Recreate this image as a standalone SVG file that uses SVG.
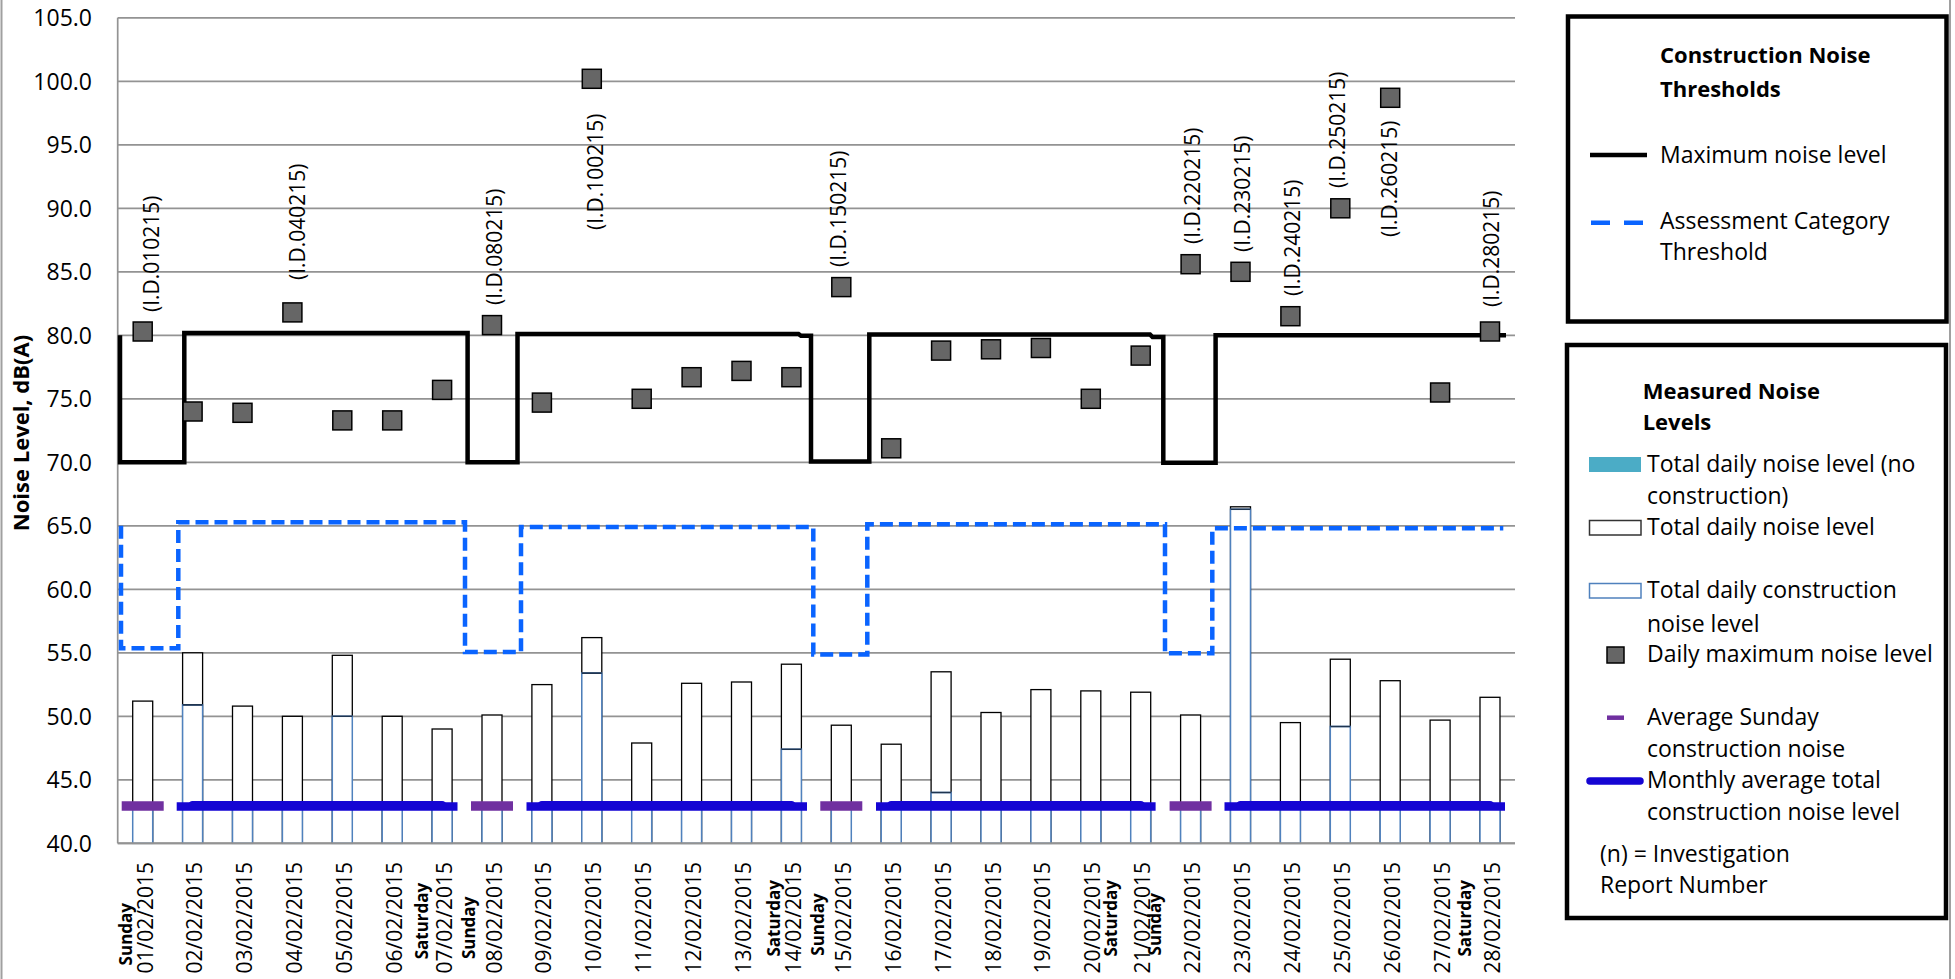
<svg xmlns="http://www.w3.org/2000/svg" width="1955" height="979" viewBox="0 0 1955 979">
<style>
text{font-family:"Open Sans","Noto Sans","Liberation Sans",sans-serif;fill:#000}
.yl{font-size:23px;text-anchor:end}
.xl{font-size:21px;text-anchor:end}
.xd{font-size:17px;font-weight:bold;text-anchor:end}
.id{font-size:21px}
.lg{font-size:23px}
.lt{font-size:22px;font-weight:bold}
.grid{stroke:#939393;stroke-width:1.7;fill:none}
.tot{fill:#fff;stroke:#000;stroke-width:1.3}
.con{fill:#fff;stroke:#4f81bd;stroke-width:1.5}
.ctop{stroke:#1f3550;stroke-width:1.6}
.mx{fill:#666;stroke:#000;stroke-width:1.5}
.sun{stroke:#7030a0;stroke-width:9.5}
.mon{stroke:#1505d3;stroke-width:8.5}
.mon2{stroke:#1505d3;stroke-width:9;stroke-linecap:round}
.maxl{fill:none;stroke:#000;stroke-width:4.5}
.acl{fill:none;stroke:#0a64ff;stroke-width:4.5;stroke-dasharray:13 6}
.box{fill:#fff;stroke:#000;stroke-width:4.5}
</style>
<rect width="1955" height="979" fill="#fff"/>
<line x1="1.5" y1="0" x2="1.5" y2="979" stroke="#a0a0a0" stroke-width="2"/>
<line x1="1950" y1="0" x2="1950" y2="979" stroke="#a0a0a0" stroke-width="2"/>

<g id="grid">
<path class="grid" d="M117.7,17.8H1515M117.7,81.3H1515M117.7,144.8H1515M117.7,208.3H1515M117.7,271.8H1515M117.7,335.3H1515M117.7,398.8H1515M117.7,462.3H1515M117.7,525.8H1515M117.7,589.3H1515M117.7,652.8H1515M117.7,716.3H1515M117.7,779.8H1515M117.7,843.3H1515M117.7,17.8V843.3"/>
</g>
<g id="y-axis">
<text class="yl" x="92" y="26">105.0</text>
<text class="yl" x="92" y="89.5">100.0</text>
<text class="yl" x="92" y="153">95.0</text>
<text class="yl" x="92" y="216.5">90.0</text>
<text class="yl" x="92" y="280">85.0</text>
<text class="yl" x="92" y="343.5">80.0</text>
<text class="yl" x="92" y="407">75.0</text>
<text class="yl" x="92" y="470.5">70.0</text>
<text class="yl" x="92" y="534">65.0</text>
<text class="yl" x="92" y="597.5">60.0</text>
<text class="yl" x="92" y="661">55.0</text>
<text class="yl" x="92" y="724.5">50.0</text>
<text class="yl" x="92" y="788">45.0</text>
<text class="yl" x="92" y="851.5">40.0</text>
<text transform="translate(28.5,433) rotate(-90)" style="font-size:22px;font-weight:bold;text-anchor:middle">Noise Level, dB(A)</text>
</g>

<g id="bars-total">
<rect class="tot" x="132.7" y="701.1" width="20" height="142.2"/>
<rect class="tot" x="182.6" y="652.8" width="20" height="190.5"/>
<rect class="tot" x="232.5" y="706.1" width="20" height="137.2"/>
<rect class="tot" x="282.4" y="716.3" width="20" height="127"/>
<rect class="tot" x="332.3" y="655.3" width="20" height="188"/>
<rect class="tot" x="382.2" y="716.3" width="20" height="127"/>
<rect class="tot" x="432.1" y="729" width="20" height="114.3"/>
<rect class="tot" x="482" y="715" width="20" height="128.3"/>
<rect class="tot" x="531.9" y="684.6" width="20" height="158.7"/>
<rect class="tot" x="581.8" y="637.6" width="20" height="205.7"/>
<rect class="tot" x="631.7" y="743" width="20" height="100.3"/>
<rect class="tot" x="681.6" y="683.3" width="20" height="160"/>
<rect class="tot" x="731.5" y="682" width="20" height="161.3"/>
<rect class="tot" x="781.4" y="664.2" width="20" height="179.1"/>
<rect class="tot" x="831.3" y="725.2" width="20" height="118.1"/>
<rect class="tot" x="881.2" y="744.2" width="20" height="99.1"/>
<rect class="tot" x="931.1" y="671.8" width="20" height="171.5"/>
<rect class="tot" x="981" y="712.5" width="20" height="130.8"/>
<rect class="tot" x="1030.9" y="689.6" width="20" height="153.7"/>
<rect class="tot" x="1080.8" y="690.9" width="20" height="152.4"/>
<rect class="tot" x="1130.7" y="692.2" width="20" height="151.1"/>
<rect class="tot" x="1180.6" y="715" width="20" height="128.3"/>
<rect class="tot" x="1230.5" y="506.8" width="20" height="336.5"/>
<rect class="tot" x="1280.4" y="722.6" width="20" height="120.7"/>
<rect class="tot" x="1330.3" y="659.2" width="20" height="184.1"/>
<rect class="tot" x="1380.2" y="680.7" width="20" height="162.6"/>
<rect class="tot" x="1430.1" y="720.1" width="20" height="123.2"/>
<rect class="tot" x="1480" y="697.3" width="20" height="146"/>
</g>
<g id="bars-construction">
<rect class="con" x="132.7" y="805.2" width="20" height="38.1"/>
<rect class="con" x="182.6" y="704.9" width="20" height="138.4"/>
<rect class="con" x="232.5" y="805.2" width="20" height="38.1"/>
<rect class="con" x="282.4" y="805.2" width="20" height="38.1"/>
<rect class="con" x="332.3" y="716.3" width="20" height="127"/>
<rect class="con" x="382.2" y="805.2" width="20" height="38.1"/>
<rect class="con" x="432.1" y="805.2" width="20" height="38.1"/>
<rect class="con" x="482" y="805.2" width="20" height="38.1"/>
<rect class="con" x="531.9" y="805.2" width="20" height="38.1"/>
<rect class="con" x="581.8" y="673.1" width="20" height="170.2"/>
<rect class="con" x="631.7" y="805.2" width="20" height="38.1"/>
<rect class="con" x="681.6" y="805.2" width="20" height="38.1"/>
<rect class="con" x="731.5" y="805.2" width="20" height="38.1"/>
<rect class="con" x="781.4" y="749.3" width="20" height="94"/>
<rect class="con" x="831.3" y="805.2" width="20" height="38.1"/>
<rect class="con" x="881.2" y="805.2" width="20" height="38.1"/>
<rect class="con" x="931.1" y="792.5" width="20" height="50.8"/>
<rect class="con" x="981" y="805.2" width="20" height="38.1"/>
<rect class="con" x="1030.9" y="805.2" width="20" height="38.1"/>
<rect class="con" x="1080.8" y="805.2" width="20" height="38.1"/>
<rect class="con" x="1130.7" y="805.2" width="20" height="38.1"/>
<rect class="con" x="1180.6" y="805.2" width="20" height="38.1"/>
<rect class="con" x="1230.5" y="509.3" width="20" height="334"/>
<rect class="con" x="1280.4" y="805.2" width="20" height="38.1"/>
<rect class="con" x="1330.3" y="726.5" width="20" height="116.8"/>
<rect class="con" x="1380.2" y="805.2" width="20" height="38.1"/>
<rect class="con" x="1430.1" y="805.2" width="20" height="38.1"/>
<rect class="con" x="1480" y="805.2" width="20" height="38.1"/>
<path class="ctop" d="M182.6,704.9h20M332.3,716.3h20M581.8,673.1h20M781.4,749.3h20M931.1,792.5h20M1230.5,509.3h20M1330.3,726.5h20"/>
<line x1="117.7" y1="843.3" x2="1515" y2="843.3" stroke="#939393" stroke-width="2"/>
</g>

<g id="averages">
<path class="sun" d="M121.7,806H163.7M471,806H513M820.3,806H862.3M1169.6,806H1211.6"/>
<path class="mon" d="M176.7,806.5H457.5M526.5,806.5H807M876,806.5H1155.6M1224.5,806.5H1505"/>
<path class="mon2" d="M192.6,805.5H442.1M541.9,805.5H791.4M891.2,805.5H1140.7M1240.5,805.5H1490"/>
</g>

<g id="thresholds">
<path class="acl" d="M121,525.8V648.3H178.3V522.3H465V652H521V527H813.3V654.6H867.3V524.3H1165V653.3H1212.3V528.3H1503.3"/>
<path class="maxl" d="M120,335.3V462.3H184.3V333H467.6V462.3H517.5V334H798.5L801,335.8H811V461.5H869.3V334.5H1150L1152.5,337H1163.3V462.8H1215.6V335.3H1506"/>
</g>

<g id="daily-max">
<rect class="mx" x="133.2" y="322" width="19" height="19"/>
<rect class="mx" x="183.1" y="402" width="19" height="19"/>
<rect class="mx" x="233" y="403.3" width="19" height="19"/>
<rect class="mx" x="282.9" y="302.9" width="19" height="19"/>
<rect class="mx" x="332.8" y="410.9" width="19" height="19"/>
<rect class="mx" x="382.7" y="410.9" width="19" height="19"/>
<rect class="mx" x="432.6" y="380.4" width="19" height="19"/>
<rect class="mx" x="482.5" y="315.6" width="19" height="19"/>
<rect class="mx" x="532.4" y="393.1" width="19" height="19"/>
<rect class="mx" x="582.3" y="69.3" width="19" height="19"/>
<rect class="mx" x="632.2" y="389.3" width="19" height="19"/>
<rect class="mx" x="682.1" y="367.7" width="19" height="19"/>
<rect class="mx" x="732" y="361.4" width="19" height="19"/>
<rect class="mx" x="781.9" y="367.7" width="19" height="19"/>
<rect class="mx" x="831.8" y="277.6" width="19" height="19"/>
<rect class="mx" x="881.7" y="438.8" width="19" height="19"/>
<rect class="mx" x="931.6" y="341.1" width="19" height="19"/>
<rect class="mx" x="981.5" y="339.8" width="19" height="19"/>
<rect class="mx" x="1031.4" y="338.5" width="19" height="19"/>
<rect class="mx" x="1081.3" y="389.3" width="19" height="19"/>
<rect class="mx" x="1131.2" y="346.1" width="19" height="19"/>
<rect class="mx" x="1181.1" y="254.7" width="19" height="19"/>
<rect class="mx" x="1231" y="262.3" width="19" height="19"/>
<rect class="mx" x="1280.9" y="306.7" width="19" height="19"/>
<rect class="mx" x="1330.8" y="198.8" width="19" height="19"/>
<rect class="mx" x="1380.7" y="88.3" width="19" height="19"/>
<rect class="mx" x="1430.6" y="383" width="19" height="19"/>
<rect class="mx" x="1480.5" y="322" width="19" height="19"/>
</g>

<g id="id-labels">
<text class="id" transform="translate(159,312) rotate(-90)">(I.D.010215)</text>
<text class="id" transform="translate(305,280) rotate(-90)">(I.D.040215)</text>
<text class="id" transform="translate(502,305) rotate(-90)">(I.D.080215)</text>
<text class="id" transform="translate(603,230) rotate(-90)">(I.D.100215)</text>
<text class="id" transform="translate(846,267) rotate(-90)">(I.D.150215)</text>
<text class="id" transform="translate(1200,244) rotate(-90)">(I.D.220215)</text>
<text class="id" transform="translate(1250,252) rotate(-90)">(I.D.230215)</text>
<text class="id" transform="translate(1300,296) rotate(-90)">(I.D.240215)</text>
<text class="id" transform="translate(1345,188) rotate(-90)">(I.D.250215)</text>
<text class="id" transform="translate(1397,237) rotate(-90)">(I.D.260215)</text>
<text class="id" transform="translate(1499,307) rotate(-90)">(I.D.280215)</text>
</g>

<g id="x-axis">
<text class="xd" transform="translate(131.5,903) rotate(-90)">Sunday</text>
<text class="xl" transform="translate(152.5,862) rotate(-90)">01/02/2015</text>
<text class="xl" transform="translate(202.1,862) rotate(-90)">02/02/2015</text>
<text class="xl" transform="translate(252,862) rotate(-90)">03/02/2015</text>
<text class="xl" transform="translate(301.9,862) rotate(-90)">04/02/2015</text>
<text class="xl" transform="translate(351.8,862) rotate(-90)">05/02/2015</text>
<text class="xl" transform="translate(401.7,862) rotate(-90)">06/02/2015</text>
<text class="xd" transform="translate(428,882.7) rotate(-90)">Saturday</text>
<text class="xl" transform="translate(451.6,862) rotate(-90)">07/02/2015</text>
<text class="xd" transform="translate(474.5,896.7) rotate(-90)">Sunday</text>
<text class="xl" transform="translate(501.5,862) rotate(-90)">08/02/2015</text>
<text class="xl" transform="translate(551.4,862) rotate(-90)">09/02/2015</text>
<text class="xl" transform="translate(601.3,862) rotate(-90)">10/02/2015</text>
<text class="xl" transform="translate(651.2,862) rotate(-90)">11/02/2015</text>
<text class="xl" transform="translate(701.1,862) rotate(-90)">12/02/2015</text>
<text class="xl" transform="translate(751,862) rotate(-90)">13/02/2015</text>
<text class="xd" transform="translate(779.6,880) rotate(-90)">Saturday</text>
<text class="xl" transform="translate(800.9,862) rotate(-90)">14/02/2015</text>
<text class="xd" transform="translate(824,893.3) rotate(-90)">Sunday</text>
<text class="xl" transform="translate(850.8,862) rotate(-90)">15/02/2015</text>
<text class="xl" transform="translate(900.7,862) rotate(-90)">16/02/2015</text>
<text class="xl" transform="translate(950.6,862) rotate(-90)">17/02/2015</text>
<text class="xl" transform="translate(1000.5,862) rotate(-90)">18/02/2015</text>
<text class="xl" transform="translate(1050.4,862) rotate(-90)">19/02/2015</text>
<text class="xl" transform="translate(1100.3,862) rotate(-90)">20/02/2015</text>
<text class="xd" transform="translate(1117,880) rotate(-90)">Saturday</text>
<text class="xl" transform="translate(1150.2,862) rotate(-90)">21/02/2015</text>
<text class="xd" transform="translate(1160.7,893) rotate(-90)">Sunday</text>
<text class="xl" transform="translate(1200.1,862) rotate(-90)">22/02/2015</text>
<text class="xl" transform="translate(1250,862) rotate(-90)">23/02/2015</text>
<text class="xl" transform="translate(1299.9,862) rotate(-90)">24/02/2015</text>
<text class="xl" transform="translate(1349.8,862) rotate(-90)">25/02/2015</text>
<text class="xl" transform="translate(1399.7,862) rotate(-90)">26/02/2015</text>
<text class="xl" transform="translate(1449.6,862) rotate(-90)">27/02/2015</text>
<text class="xd" transform="translate(1471,880) rotate(-90)">Saturday</text>
<text class="xl" transform="translate(1499.5,862) rotate(-90)">28/02/2015</text>
</g>

<g id="legend-thresholds">
<rect class="box" x="1568" y="16.5" width="378.5" height="305"/>
<text class="lt" x="1660" y="63">Construction Noise</text>
<text class="lt" x="1660" y="96.5">Thresholds</text>
<line x1="1590" y1="155" x2="1647" y2="155" stroke="#000" stroke-width="4.5"/>
<text class="lg" x="1660" y="163">Maximum noise level</text>
<line x1="1591" y1="222.7" x2="1643" y2="222.7" stroke="#0a64ff" stroke-width="4.5" stroke-dasharray="19 14"/>
<text class="lg" x="1660" y="228.5">Assessment Category</text>
<text class="lg" x="1660" y="260">Threshold</text>
</g>

<g id="legend-measured">
<rect class="box" x="1567" y="345" width="379" height="573"/>
<text class="lt" x="1642.7" y="399">Measured Noise</text>
<text class="lt" x="1642.7" y="430">Levels</text>
<rect x="1589" y="457" width="52" height="15" fill="#4bacc6"/>
<text class="lg" x="1647" y="471.5">Total daily noise level (no</text>
<text class="lg" x="1647" y="504">construction)</text>
<rect x="1589.5" y="520.5" width="51.5" height="14.5" fill="#fff" stroke="#333" stroke-width="1.5"/>
<text class="lg" x="1647" y="535">Total daily noise level</text>
<rect x="1589.5" y="583.5" width="51.5" height="14.5" fill="#fff" stroke="#4f81bd" stroke-width="1.5"/>
<text class="lg" x="1647" y="598">Total daily construction</text>
<text class="lg" x="1647" y="631.5">noise level</text>
<rect x="1607" y="647" width="17" height="16" fill="#666" stroke="#000" stroke-width="1.5"/>
<text class="lg" x="1647" y="661.5">Daily maximum noise level</text>
<line x1="1607" y1="717.7" x2="1624" y2="717.7" stroke="#7030a0" stroke-width="4.5"/>
<text class="lg" x="1647" y="725">Average Sunday</text>
<text class="lg" x="1647" y="757.3">construction noise</text>
<line x1="1590" y1="781" x2="1640" y2="781" stroke="#1505d3" stroke-width="7.5" stroke-linecap="round"/>
<text class="lg" x="1647" y="788.3">Monthly average total</text>
<text class="lg" x="1647" y="820">construction noise level</text>
<text class="lg" x="1600" y="861.7">(n) = Investigation</text>
<text class="lg" x="1600" y="893.3">Report Number</text>
</g>
</svg>
